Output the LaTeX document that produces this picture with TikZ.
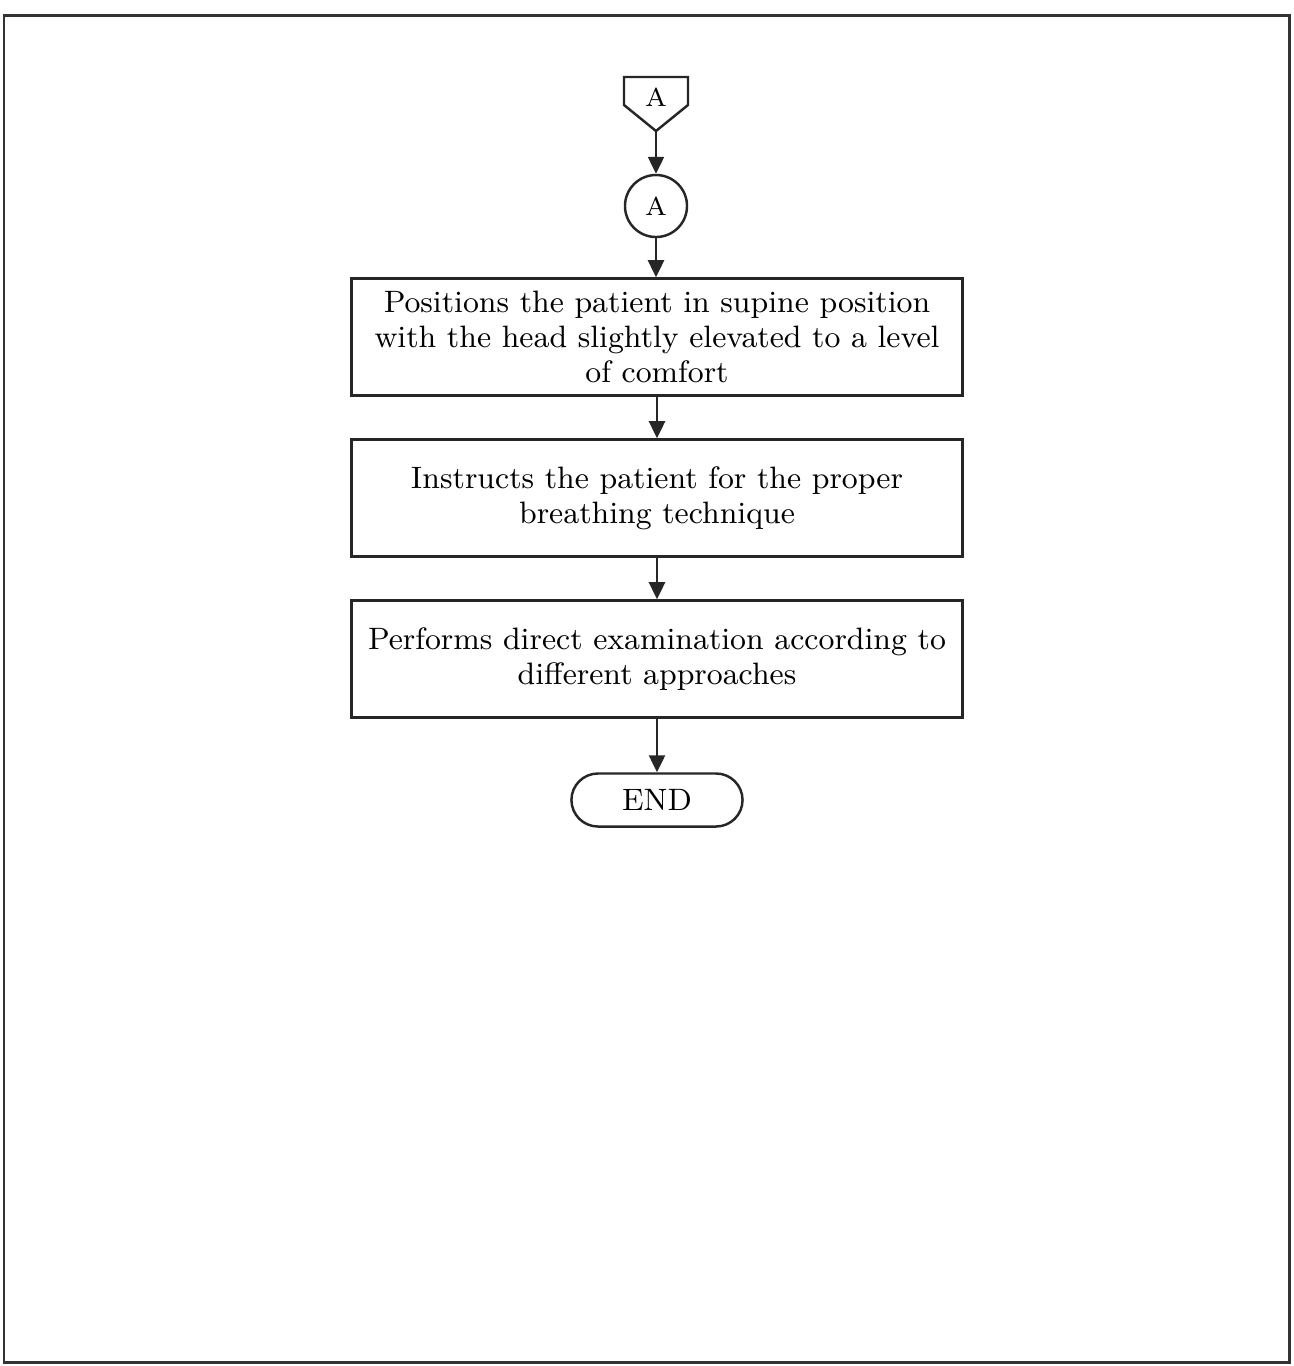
\documentclass[tikz,border=0pt]{standalone}
\usepackage{amsmath}
\usepackage{tikz}
\usetikzlibrary{arrows.meta}

\tikzset{
  stepbox/.style={draw=black!85, line width=0.7pt, minimum width=6.11cm, minimum height=1.17cm,
    align=center, inner sep=2pt, font=\fontsize{8.8}{9.96}\selectfont},
  endbox/.style={draw=black!85, line width=0.7pt, rounded corners=0.265cm, minimum width=1.71cm,
    minimum height=0.53cm, font=\fontsize{8.8}{9.96}\selectfont},
  conn/.style={draw=black!85, line width=0.7pt, circle, minimum size=0.62cm, inner sep=0pt,
    font=\fontsize{7.4}{8}\selectfont},
  arr/.style={draw=black!85, line width=0.7pt, -{Triangle[length=0.17cm,width=0.16cm]}}
}

\begin{document}
\begin{tikzpicture}[x=0.01cm,y=-0.01cm]
            \useasboundingbox (0,0) rectangle (1293,1366);
            \draw[black!80, line width=0.85pt] (4,15) rectangle (1289,1362);

            % off-page connector
            \draw[black!85, line width=0.7pt] (624,77) -- (688,77) -- (688,105) -- (656,131) -- (624,105) -- cycle;
            \node[font=\fontsize{7.4}{8}\selectfont] (offpage) at (656,97) {A};
            \coordinate (offtip) at (656,131);

            \node[conn] (onpage) at (656,206) {A};

            \node[stepbox] (position) at (657,337) {Positions the patient in supine position\\with the head slightly elevated to a level\\of comfort};
            \node[stepbox] (breathing) at (657,498) {Instructs the patient for the proper\\breathing technique};
            \node[stepbox] (exam) at (657,659) {Performs direct examination according to\\different approaches};
            \node[endbox] (end) at (657,800) {END};

            \draw[arr] (offtip) -- (onpage.north);
            \draw[arr] (onpage.south) -- (onpage.south |- position.north);
            \draw[arr] (position.south) -- (breathing.north);
            \draw[arr] (breathing.south) -- (exam.north);
            \draw[arr] (exam.south) -- (end.north);
    \end{tikzpicture}
\end{document}
